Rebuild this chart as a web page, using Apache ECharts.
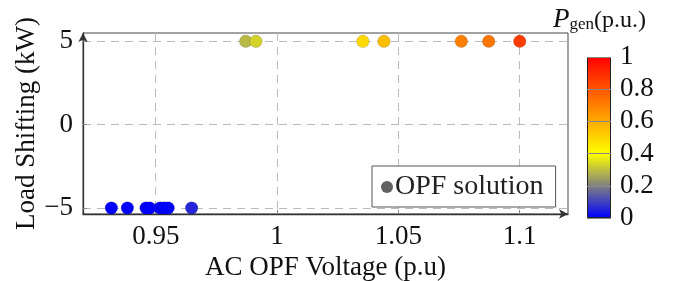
<!DOCTYPE html>
<html>
<head>
<meta charset="utf-8">
<script src="https://cdn.jsdelivr.net/npm/echarts@6/dist/echarts.min.js"></script>
<style>
  html, body { margin: 0; padding: 0; background: #fff; }
  #chart { width: 689px; height: 281px; }
</style>
</head>
<body>
<div id="chart"></div>
<script>
// OPF solutions: voltage (p.u), load shifting (kW), generation (p.u.)
const voltage = [0.9317, 0.9383, 0.9460, 0.9475, 0.9518, 0.9535, 0.9551, 0.9648,
                 0.9871, 0.9913, 1.0354, 1.0441, 1.0760, 1.0873, 1.1001];
const loadShift = [-5, -5, -5, -5, -5, -5, -5, -5,
                   5, 5, 5, 5, 5, 5, 5];
const pGen = [0, 0, 0, 0, 0, 0, 0, 0.06,
              0.29, 0.33, 0.49, 0.55, 0.70, 0.72, 0.86];

const xTicks = [0.95, 1, 1.05, 1.1];
const yTicks = [-5, 0, 5];
const cmap = ["#0000ff", "#80807f", "#ffff00", "#ffaa00", "#ff5500", "#ff0000"];

const FONT = "'Liberation Serif', 'DejaVu Serif', serif";
const FS = 27;

const chart = echarts.init(document.getElementById("chart"));

const points = voltage.map((v, i) => [v, loadShift[i], pGen[i]]);

const option = {
  animation: false,
  textStyle: { fontFamily: FONT },
  grid: [
    { left: 83, right: 121, top: 33, bottom: 67, show: true, borderColor: "#444", borderWidth: 1, outerBoundsMode: "none", containLabel: false },
    { left: 587, width: 24, top: 57, height: 161, outerBoundsMode: "none", containLabel: false },
  ],
  xAxis: [
    {
      type: "value",
      gridIndex: 0,
      min: 0.92,
      max: 1.12,
      name: "AC OPF Voltage (p.u)",
      nameLocation: "middle",
      nameGap: 40,
      nameMoveOverlap: false,
      nameTextStyle: { fontSize: FS, color: "#111", fontFamily: FONT },
      axisLine: { show: true, onZero: false, symbol: ["none", "arrow"], symbolSize: [7, 9], lineStyle: { color: "#333", width: 1.3 } },
      axisTick: { show: true, inside: true, length: 4, customValues: xTicks, lineStyle: { color: "#888" } },
      axisLabel: {
        customValues: xTicks,
        fontSize: FS,
        color: "#111",
        margin: 9,
        fontFamily: FONT,
        formatter: (v) => String(+v.toFixed(2)),
      },
      splitLine: { show: true, lineStyle: { color: "#bbb", type: [8, 6], width: 1 } },
    },
    {
      type: "category",
      gridIndex: 1,
      data: [""],
      show: false,
    },
  ],
  yAxis: [
    {
      type: "value",
      gridIndex: 0,
      min: -5.36,
      max: 5.5,
      name: "Load Shifting (kW)",
      nameLocation: "middle",
      nameGap: 43,
      nameMoveOverlap: false,
      nameTextStyle: { fontSize: FS, color: "#111", fontFamily: FONT },
      axisLine: { show: true, onZero: false, symbol: ["none", "arrow"], symbolSize: [7, 9], lineStyle: { color: "#333", width: 1.3 } },
      axisTick: { show: true, inside: true, length: 4, customValues: yTicks, lineStyle: { color: "#888" } },
      axisLabel: {
        customValues: yTicks,
        fontSize: FS,
        color: "#111",
        margin: 10,
        fontFamily: FONT,
        formatter: (v) => (v < 0 ? "\u2212" + Math.abs(v) : String(v)),
      },
      splitLine: { show: true, lineStyle: { color: "#bbb", type: [8, 6], width: 1 } },
    },
    {
      type: "value",
      gridIndex: 1,
      position: "right",
      min: 0,
      max: 1,
      interval: 0.2,
      z: 10,
      axisLine: { show: false },
      axisTick: { show: true, inside: true, length: 24, lineStyle: { color: "#888", width: 1 } },
      axisLabel: { fontSize: FS, color: "#111", margin: 9, fontFamily: FONT },
      splitLine: { show: false },
    },
  ],
  visualMap: {
    show: false,
    type: "continuous",
    min: 0,
    max: 1,
    dimension: 2,
    seriesIndex: 0,
    inRange: { color: cmap },
  },
  legend: {
    data: ["OPF solution"],
    left: 372,
    top: 166,
    padding: [7, 12, 6, 9],
    itemWidth: 12,
    itemHeight: 12,
    itemGap: 4,
    icon: "circle",
    backgroundColor: "#fff",
    borderColor: "#555",
    borderWidth: 1,
    borderRadius: 0,
    textStyle: { fontSize: 28, color: "#222", fontFamily: FONT, padding: [0, 0, 0, -3] },
  },
  graphic: [
    {
      type: "text",
      left: 553,
      top: 6,
      style: {
        text: "{p|P}{s|gen}{n|(p.u.)}",
        rich: {
          p: { fontSize: 27, fontStyle: "italic", fontFamily: FONT, fill: "#111", lineHeight: 28, verticalAlign: "bottom" },
          s: { fontSize: 17, fontFamily: FONT, fill: "#111", lineHeight: 22, verticalAlign: "bottom" },
          n: { fontSize: 24, fontFamily: FONT, fill: "#111", lineHeight: 28, verticalAlign: "bottom" },
        },
      },
    },
  ],
  series: [
    {
      type: "scatter",
      xAxisIndex: 0,
      yAxisIndex: 0,
      symbolSize: 12.5,
      itemStyle: { opacity: 1, borderColor: "rgba(0,0,0,0.18)", borderWidth: 0.8 },
      data: points,
      z: 5,
    },
    {
      name: "OPF solution",
      type: "scatter",
      xAxisIndex: 0,
      yAxisIndex: 0,
      itemStyle: { color: "#3a3a3a" },
      data: [],
    },
    {
      type: "bar",
      xAxisIndex: 1,
      yAxisIndex: 1,
      barWidth: "100%",
      data: [1],
      itemStyle: {
        borderColor: "#222",
        borderWidth: 1,
        color: new echarts.graphic.LinearGradient(0, 0, 0, 1, cmap.slice().reverse().map((c, i, arr) => ({ offset: i / (arr.length - 1), color: c }))),
      },
    },
  ],
};

chart.setOption(option);
</script>
</body>
</html>
